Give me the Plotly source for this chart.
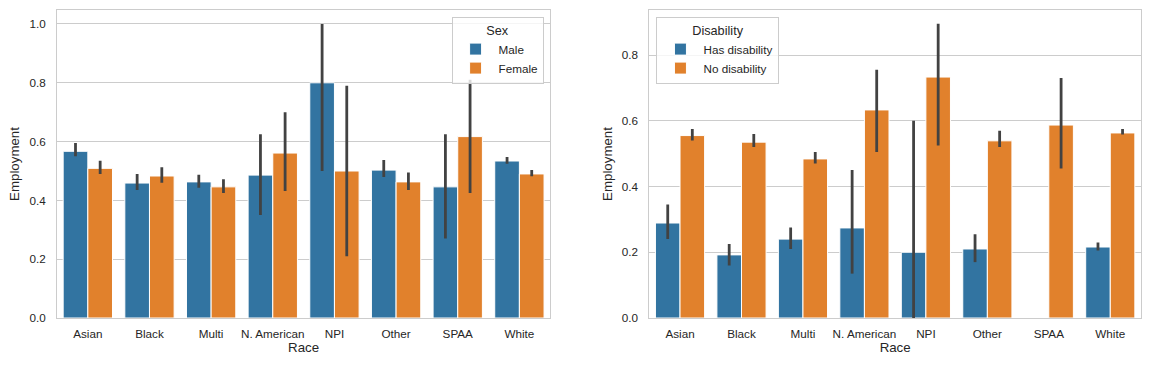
import plotly.graph_objects as go
from plotly.subplots import make_subplots

races = ["Asian", "Black", "Multi", "N. American", "NPI", "Other", "SPAA", "White"]

male = [0.567, 0.459, 0.463, 0.486, 0.800, 0.503, 0.446, 0.534]
male_lo = [0.550, 0.435, 0.443, 0.350, 0.500, 0.480, 0.270, 0.525]
male_hi = [0.595, 0.490, 0.487, 0.625, 1.000, 0.537, 0.625, 0.548]

female = [0.509, 0.483, 0.446, 0.561, 0.500, 0.463, 0.617, 0.490]
female_lo = [0.490, 0.460, 0.425, 0.432, 0.210, 0.435, 0.425, 0.482]
female_hi = [0.535, 0.513, 0.472, 0.700, 0.790, 0.495, 0.810, 0.503]

has_dis = [0.289, 0.192, 0.240, 0.274, 0.200, 0.210, None, 0.216]
has_dis_lo = [0.240, 0.160, 0.210, 0.135, 0.000, 0.170, None, 0.205]
has_dis_hi = [0.345, 0.225, 0.275, 0.450, 0.600, 0.255, None, 0.230]

no_dis = [0.555, 0.535, 0.484, 0.633, 0.733, 0.539, 0.587, 0.563]
no_dis_lo = [0.540, 0.520, 0.470, 0.505, 0.525, 0.520, 0.455, 0.558]
no_dis_hi = [0.575, 0.560, 0.505, 0.755, 0.895, 0.570, 0.730, 0.575]

BLUE = "#3274a1"
ORANGE = "#e1812c"
ERR = "#424242"
GRID = "#cccccc"
TXT = "#262626"
FAM = "Liberation Sans, Arial, sans-serif"

def errs(vals, lo, hi):
    plus = [None if v is None else h - v for v, h in zip(vals, hi)]
    minus = [None if v is None else v - l for v, l in zip(vals, lo)]
    return dict(type="data", symmetric=False, array=plus, arrayminus=minus,
                color=ERR, thickness=2.8, width=0)

fig = make_subplots(rows=1, cols=2)

def add(vals, lo, hi, name, color, col, legend):
    fig.add_trace(go.Bar(x=races, y=vals, name=name, marker_color=color,
                         marker_line_color="white", marker_line_width=1,
                         error_y=errs(vals, lo, hi), legend=legend,
                         hoverinfo="x+y"), row=1, col=col)

add(male, male_lo, male_hi, "Male", BLUE, 1, "legend")
add(female, female_lo, female_hi, "Female", ORANGE, 1, "legend")
add(has_dis, has_dis_lo, has_dis_hi, "Has disability", BLUE, 2, "legend2")
add(no_dis, no_dis_lo, no_dis_hi, "No disability", ORANGE, 2, "legend2")

tick_font = dict(family=FAM, size=11.7, color=TXT)
label_font = dict(family=FAM, size=13.3, color=TXT)

fig.update_layout(
    width=1152, height=367,
    margin=dict(l=57, r=11, t=10, b=49),
    paper_bgcolor="white", plot_bgcolor="white",
    font=tick_font,
    barmode="group", bargap=0.2, bargroupgap=0,
    xaxis=dict(domain=[0, 0.455]),
    xaxis2=dict(domain=[0.5464, 1]),
    legend=dict(title=dict(text="Sex", side="top center", font=dict(family=FAM, size=12.7, color=TXT)),
                x=0.4489, xanchor="right", y=0.977, yanchor="top",
                bgcolor="rgba(255,255,255,0.8)", bordercolor=GRID, borderwidth=1,
                font=dict(family=FAM, size=11.7, color=TXT), tracegroupgap=2, itemwidth=36),
    legend2=dict(title=dict(text="Disability", side="top center", font=dict(family=FAM, size=12.7, color=TXT)),
                 x=0.5530, xanchor="left", y=0.977, yanchor="top",
                 bgcolor="rgba(255,255,255,0.8)", bordercolor=GRID, borderwidth=1,
                 font=dict(family=FAM, size=11.7, color=TXT), tracegroupgap=2, itemwidth=36),
)

for c in (1, 2):
    fig.update_xaxes(row=1, col=c, showgrid=False, showline=True, mirror=True,
                     linecolor=GRID, linewidth=1, ticks="", automargin=False,
                     title=dict(text="Race", standoff=1, font=label_font), ticklabelstandoff=5,
                     tickfont=tick_font, zeroline=False)
fig.update_yaxes(row=1, col=1, range=[0, 1.0476], tickvals=[0, 0.2, 0.4, 0.6, 0.8, 1.0],
                 tickformat=".1f")
fig.update_yaxes(row=1, col=2, range=[0, 0.937], tickvals=[0, 0.2, 0.4, 0.6, 0.8],
                 tickformat=".1f")
fig.update_yaxes(showgrid=True, gridcolor=GRID, gridwidth=1, showline=True, mirror=True,
                 linecolor=GRID, linewidth=1, ticks="", zeroline=False, automargin=False,
                 ticklabelstandoff=8,
                 title=dict(text="Employment", standoff=6, font=label_font), tickfont=tick_font)

fig.write_html("out.html", config={"displayModeBar": False},
               post_script="document.body.style.margin='0';")
